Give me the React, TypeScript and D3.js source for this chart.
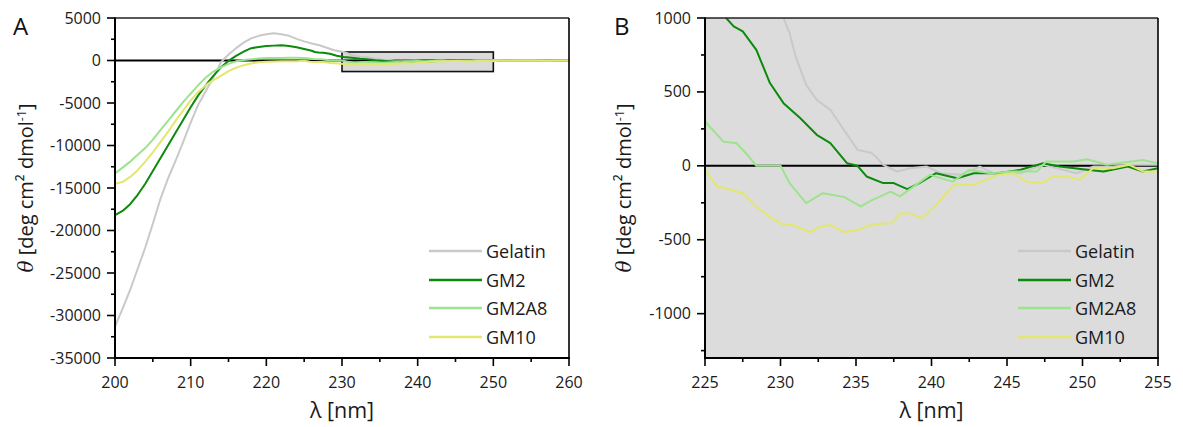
import React from "react"
import * as d3 from "d3"

type Pt = [number, number]

// CD spectra, wavelength (nm) vs mean residue ellipticity
const gelatin: Pt[] = [
  [200, -31300], [201, -29200], [202, -27000], [203, -24500], [204, -22000], [205, -19200],
  [206, -16300], [207, -13900], [208, -11800], [209, -9600], [210, -7300], [211, -5200],
  [212, -3600], [213, -2000], [214, -200], [215, 700], [216, 1450], [217, 2100], [218, 2600],
  [219, 2900], [220, 3100], [221, 3200], [222, 3100], [223, 2900], [224, 2550], [225, 2250],
  [226, 2000], [227, 1800], [228, 1500], [229, 1200], [230.2, 1000], [230.6, 898], [231, 740],
  [231.7, 548], [232.4, 446], [233.3, 379], [234.2, 243], [235.1, 108], [236, 88], [236.3, 63],
  [236.8, 7], [237.7, -38], [238.6, -16], [239.7, -5], [240.6, -50], [241.9, -61], [243.2, -5],
  [244.1, -50], [245.9, -50], [247.4, 7], [248.7, -27], [249.6, -50], [250.7, -5], [252, -5],
  [253.4, 7], [255, 7], [257, 0], [260, 0],
]

const gm2: Pt[] = [
  [200, -18200], [201, -17700], [202, -16900], [203, -15800], [204, -14500], [205, -13000],
  [206, -11500], [207, -10000], [208, -8500], [209, -7000], [210, -5500], [211, -4100],
  [212, -2900], [213, -1800], [214, -800], [215, -50], [216, 550], [217, 1050], [218, 1450],
  [219, 1600], [220, 1700], [221, 1750], [222, 1800], [223, 1700], [224, 1550], [225, 1350],
  [226, 1150], [226.4, 1000], [226.9, 943], [227.5, 909], [228.4, 785], [229.3, 560],
  [230.2, 424], [231.3, 323], [232.4, 210], [233.3, 154], [234.4, 18], [235.1, 0], [235.7, -72],
  [236.8, -117], [237.5, -117], [238.4, -158], [239.2, -117], [240.3, -50], [241.7, -84],
  [242.8, -50], [244.4, -50], [245.9, -27], [247.4, 18], [248.5, -5], [250.3, -27], [251.4, -38],
  [253, -5], [254, -38], [255, -16], [257, -10], [260, 0],
]

const gm2a8: Pt[] = [
  [200, -13300], [201, -12600], [202, -11900], [203, -11100], [204, -10300], [205, -9300],
  [206, -8200], [207, -7100], [208, -6000], [209, -4900], [210, -3900], [211, -2900],
  [212, -2000], [213, -1300], [214, -800], [215, -400], [216, -100], [217, 50], [218, 150],
  [219, 250], [220, 280], [221, 300], [222, 300], [223, 310], [224, 320], [225, 300],
  [226.2, 165], [227.1, 153], [227.8, 75], [228.4, 0], [230, 0], [230.6, -117], [231.7, -252],
  [232.8, -185], [234.2, -210], [235.3, -275], [236.1, -230], [237.3, -175], [237.9, -207],
  [239.9, -61], [241.4, -107], [242.5, -27], [243.9, -50], [245.4, -38], [247, -38], [247.6, 30],
  [249.4, 30], [250.3, 45], [251.6, 7], [254, 40], [255, 18], [257, 10], [260, 0],
]

const gm10: Pt[] = [
  [200, -14500], [201, -14300], [202, -13700], [203, -12900], [204, -11900], [205, -10800],
  [206, -9600], [207, -8400], [208, -7100], [209, -5900], [210, -4700], [211, -3700],
  [212, -2900], [213, -2300], [214, -1800], [215, -1250], [216, -850], [217, -550], [218, -350],
  [219, -200], [220, -150], [221, -120], [222, -100], [223, -100], [224, -80], [225, -27],
  [225.8, -140], [226.7, -162], [227.5, -185], [228.5, -285], [229.4, -353], [230.2, -400],
  [230.8, -400], [232, -449], [232.6, -410], [233.3, -400], [234.2, -449], [235.1, -433],
  [236, -400], [236.8, -390], [237.4, -388], [237.9, -325], [238.5, -320], [239.4, -354],
  [240.2, -275], [240.6, -230], [241.5, -128], [242.8, -128], [244.4, -61], [245.4, -50],
  [246.3, -107], [247.4, -117], [248, -72], [249, -72], [249.8, -95], [250.7, -16], [252, -16],
  [253.1, 7], [254, -38], [255, -38], [257, -20], [260, 0],
]

const seriesNames = ["Gelatin", "GM2", "GM2A8", "GM10"]
const seriesData = [gelatin, gm2, gm2a8, gm10]
const colors = ["#c9c9c9", "#0b8a0b", "#9de38e", "#e3e76f"]

const xTicksA = [200, 210, 220, 230, 240, 250, 260]
const yTicksA = [5000, 0, -5000, -10000, -15000, -20000, -25000, -30000, -35000]
const xTicksB = [225, 230, 235, 240, 245, 250, 255]
const yTicksB = [1000, 500, 0, -500, -1000]
const zoomWindow = { x0: 230, x1: 250, y0: -1300, y1: 1000 }

const font = "'Open Sans', 'Noto Sans', sans-serif"
const ink = "#1a1a1a"

interface PanelProps {
  id: string
  letter: string
  xDomain: [number, number]
  yDomain: [number, number]
  left: number
  right: number
  xTicks: number[]
  yTicks: number[]
  xMinor: number
  yMinor: number
  bg: string
  inset?: boolean
  letterX: number
  titleX: number
}

function Panel(p: PanelProps) {
  const top = 18
  const bottom = 358
  const x = d3.scaleLinear().domain(p.xDomain).range([p.left, p.right])
  const y = d3.scaleLinear().domain(p.yDomain).range([bottom, top])
  const line = d3
    .line<Pt>()
    .x(d => x(d[0]))
    .y(d => y(d[1]))
  const xMinorTicks = p.xTicks.slice(0, -1).map(t => t + p.xMinor)
  const yMinorTicks: number[] = []
  for (let v = p.yTicks[0] - p.yMinor; v > p.yDomain[0]; v -= p.yMinor * 2) yMinorTicks.push(v)
  const legX = p.right - 140
  const legY = [251, 280, 308, 337]

  return (
    <g>
      <defs>
        <clipPath id={"clip" + p.id}>
          <rect x={p.left} y={top} width={p.right - p.left} height={bottom - top} />
        </clipPath>
      </defs>
      <rect x={p.left} y={top} width={p.right - p.left} height={bottom - top} fill={p.bg} />
      {p.inset && (
        <rect
          x={x(zoomWindow.x0)}
          y={y(zoomWindow.y1)}
          width={x(zoomWindow.x1) - x(zoomWindow.x0)}
          height={y(zoomWindow.y0) - y(zoomWindow.y1)}
          fill="#dadada"
          stroke="#111"
          strokeWidth={1.6}
        />
      )}
      <line x1={p.left} x2={p.right} y1={y(0)} y2={y(0)} stroke="#000" strokeWidth={2} />
      <g clipPath={`url(#clip${p.id})`}>
        {seriesData.map((s, i) => (
          <path key={i} d={line(s) || ""} fill="none" stroke={colors[i]} strokeWidth={2} strokeLinejoin="round" />
        ))}
      </g>

      {/* frame */}
      <line x1={p.left} x2={p.right} y1={top} y2={top} stroke="#222" strokeWidth={1.3} />
      <line x1={p.right} x2={p.right} y1={top} y2={bottom} stroke="#000" strokeWidth={1.6} />
      <line x1={p.left} x2={p.left} y1={top - 0.6} y2={bottom + 1} stroke="#000" strokeWidth={2} />
      <line x1={p.left - 1} x2={p.right + 0.8} y1={bottom} y2={bottom} stroke="#000" strokeWidth={2} />

      {/* y ticks */}
      {p.yTicks.map(t => (
        <g key={"y" + t}>
          <line x1={p.left - 8} x2={p.left} y1={y(t)} y2={y(t)} stroke="#000" strokeWidth={1.6} />
          <text x={p.left - 14} y={y(t) + 5.5} textAnchor="end" fontSize={16} fontFamily={font} fill={ink}>
            {String(t)}
          </text>
        </g>
      ))}
      {yMinorTicks.map(t => (
        <line key={"ym" + t} x1={p.left - 4} x2={p.left} y1={y(t)} y2={y(t)} stroke="#000" strokeWidth={1.6} />
      ))}

      {/* x ticks */}
      {p.xTicks.map(t => (
        <g key={"x" + t}>
          <line x1={x(t)} x2={x(t)} y1={bottom} y2={bottom + 8} stroke="#000" strokeWidth={1.6} />
          <text x={x(t)} y={bottom + 30} textAnchor="middle" fontSize={16} fontFamily={font} fill={ink}>
            {String(t)}
          </text>
        </g>
      ))}
      {xMinorTicks.map(t => (
        <line key={"xm" + t} x1={x(t)} x2={x(t)} y1={bottom} y2={bottom + 4} stroke="#000" strokeWidth={1.6} />
      ))}

      {/* titles */}
      <text x={(p.left + p.right) / 2} y={418} textAnchor="middle" fontSize={21.5} fontFamily={font} fill={ink}>
        λ [nm]
      </text>
      <text
        transform={`translate(${p.titleX},${188}) rotate(-90)`}
        textAnchor="middle"
        fontSize={20}
        fontFamily={font}
        fill={ink}
      >
        <tspan fontStyle="italic" fontFamily="'DejaVu Serif', serif">θ</tspan>
        <tspan> [deg cm² dmol</tspan>
        <tspan fontSize={12.5} dy={-7}>-1</tspan>
        <tspan dy={7}>]</tspan>
      </text>
      <text x={p.letterX} y={35} fontSize={24} fontFamily={font} fill="#111">
        {p.letter}
      </text>

      {/* legend */}
      {seriesNames.map((n, i) => (
        <g key={n}>
          <line x1={legX} x2={legX + 53} y1={legY[i]} y2={legY[i]} stroke={colors[i]} strokeWidth={2.5} />
          <text x={legX + 57} y={legY[i] + 6.5} fontSize={18} fontFamily={font} fill={ink}>
            {n}
          </text>
        </g>
      ))}
    </g>
  )
}

export default function App() {
  return (
    <svg
      width={1183}
      height={427}
      style={{ position: "absolute", left: 0, top: 0, background: "#fff" }}
    >
      <Panel
        id="A"
        letter="A"
        xDomain={[200, 260]}
        yDomain={[-35000, 5000]}
        left={115}
        right={569}
        xTicks={xTicksA}
        yTicks={yTicksA}
        xMinor={5}
        yMinor={2500}
        bg="#fff"
        inset
        letterX={13}
        titleX={33}
      />
      <Panel
        id="B"
        letter="B"
        xDomain={[225, 255]}
        yDomain={[zoomWindow.y0, zoomWindow.y1]}
        left={705}
        right={1158}
        xTicks={xTicksB}
        yTicks={yTicksB}
        xMinor={2.5}
        yMinor={250}
        bg="#dcdcdc"
        letterX={614}
        titleX={631}
      />
    </svg>
  )
}
